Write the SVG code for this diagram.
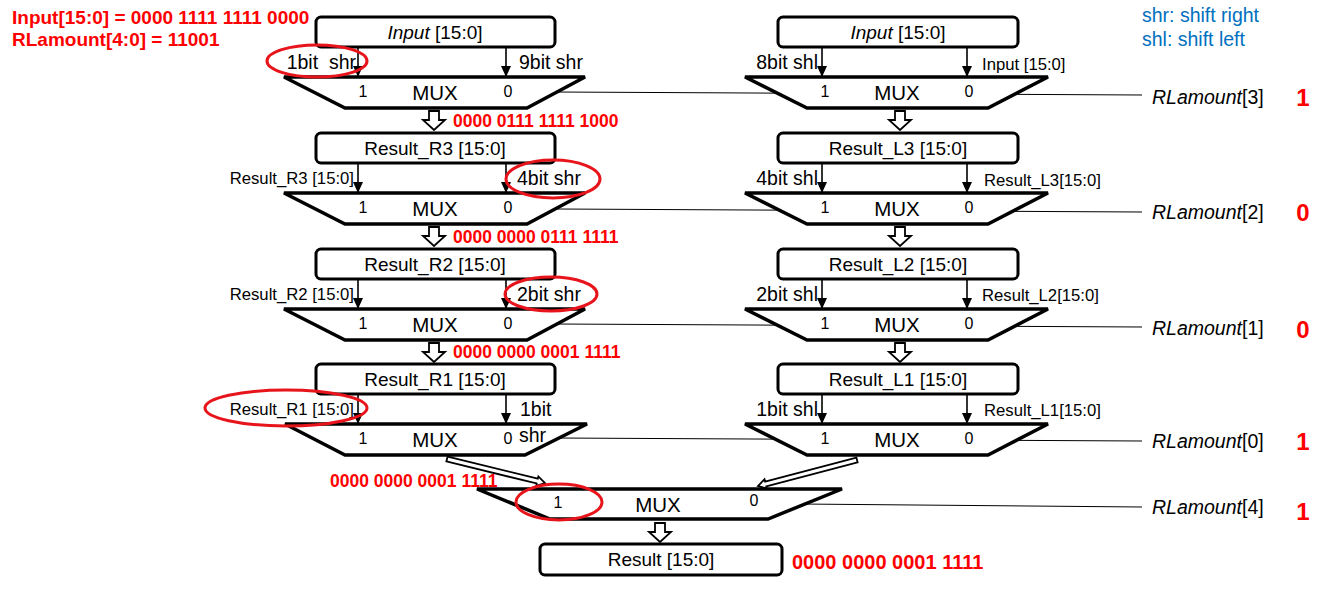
<svg xmlns="http://www.w3.org/2000/svg" width="1323" height="596" viewBox="0 0 1323 596">
<style>
text{font-family:"Liberation Sans",Arial,Helvetica,sans-serif;fill:#000}
.box{fill:#fff;stroke:#000;stroke-width:3}
.mux{fill:#fff;stroke:#000;stroke-width:3.5;stroke-linejoin:miter}
.ctl{stroke:#000;stroke-width:1;fill:none}
.arr{stroke:#000;stroke-width:1.6;fill:none;marker-end:url(#ah)}
.hol{fill:#fff;stroke:#000;stroke-width:1.8;stroke-linejoin:miter}
.red{fill:#f00;font-weight:bold}
.ell{fill:none;stroke:#e8141b;stroke-width:3}
.bt{font-size:19px;text-anchor:middle}
.lb{font-size:19.5px}
.sm{font-size:16.7px}
.mx{font-size:20.5px;text-anchor:middle}
.io{font-size:16px;text-anchor:middle}
.rl{font-size:19.5px}
.bit{font-size:24px;text-anchor:middle}
.blue{fill:#0070c0;font-size:19.5px}
</style>
<defs>
<marker id="ah" markerUnits="userSpaceOnUse" markerWidth="12" markerHeight="14" refX="10" refY="6" orient="auto">
<path d="M0,1 L11,6 L0,11 Z" fill="#000"/>
</marker>
</defs>

<g id="connectors">
<line class="ctl" x1="556" y1="92" x2="1142" y2="95"/>
<line class="ctl" x1="556" y1="209" x2="1142" y2="212"/>
<line class="ctl" x1="556" y1="324" x2="1142" y2="327"/>
<line class="ctl" x1="556" y1="438" x2="1142" y2="441"/>
<line class="ctl" x1="800" y1="504" x2="1142" y2="507"/>
<line class="arr" x1="358" y1="47" x2="358" y2="76"/>
<line class="arr" x1="506" y1="47" x2="506" y2="76"/>
<line class="arr" x1="822" y1="47" x2="822" y2="76"/>
<line class="arr" x1="967" y1="47" x2="967" y2="76"/>
<line class="arr" x1="358" y1="163" x2="358" y2="192"/>
<line class="arr" x1="506" y1="163" x2="506" y2="192"/>
<line class="arr" x1="822" y1="163" x2="822" y2="192"/>
<line class="arr" x1="967" y1="163" x2="967" y2="192"/>
<line class="arr" x1="358" y1="279" x2="358" y2="308"/>
<line class="arr" x1="506" y1="279" x2="506" y2="308"/>
<line class="arr" x1="822" y1="279" x2="822" y2="308"/>
<line class="arr" x1="967" y1="279" x2="967" y2="308"/>
<line class="arr" x1="358" y1="394" x2="358" y2="423"/>
<line class="arr" x1="506" y1="394" x2="506" y2="423"/>
<line class="arr" x1="822" y1="394" x2="822" y2="423"/>
<line class="arr" x1="967" y1="394" x2="967" y2="423"/>
<polygon class="hol" points="429,111 439,111 439,120 445,120 434,130 423,120 429,120"/>
<polygon class="hol" points="895,111 905,111 905,120 911,120 900,130 889,120 895,120"/>
<polygon class="hol" points="429,227 439,227 439,236 445,236 434,246 423,236 429,236"/>
<polygon class="hol" points="895,227 905,227 905,236 911,236 900,246 889,236 895,236"/>
<polygon class="hol" points="429,343 439,343 439,352 445,352 434,362 423,352 429,352"/>
<polygon class="hol" points="895,343 905,343 905,352 911,352 900,362 889,352 895,352"/>
<polygon class="hol" points="655,523 665,523 665,532 671,532 660,542 649,532 655,532"/>
<polygon class="hol" stroke-width="1.3" points="446.4,461.4 536.6,483.5 536.3,485.8 545,483 538.4,476.4 537.8,478.7 447.6,456.6"/>
<polygon class="hol" stroke-width="1.3" points="856.4,457.6 765.1,481.6 764.5,479.3 758,486 767,488.6 766.3,486.4 857.6,462.4"/>
</g>

<g id="note-input">
<text class="red" x="12" y="24" font-size="19">Input[15:0] = 0000 1111 1111 0000</text>
<text class="red" x="12" y="46" font-size="19">RLamount[4:0] = 11001</text>
</g>
<g id="legend">
<text class="blue" x="1142" y="22">shr: shift right</text>
<text class="blue" x="1142" y="46">shl: shift left</text>
</g>

<!-- Row 1 -->
<g id="box-input-r">
<rect class="box" x="316" y="17" width="239" height="30" rx="5"/>
<text class="bt" x="435" y="39"><tspan font-style="italic">Input</tspan> [15:0]</text>
</g>
<g id="box-input-l">
<rect class="box" x="778" y="17" width="240" height="30" rx="5"/>
<text class="bt" x="898" y="39"><tspan font-style="italic">Input</tspan> [15:0]</text>
</g>
<g id="mux-r3">
<polygon class="mux" points="284,77 585,77 527,108 345,108"/>
<text class="io" x="363" y="97">1</text><text class="mx" x="435" y="100">MUX</text><text class="io" x="508" y="97">0</text>
</g>
<g id="mux-l3">
<polygon class="mux" points="745,77 1048,77 988,108 807,108"/>
<text class="io" x="825" y="97">1</text><text class="mx" x="897" y="100">MUX</text><text class="io" x="969" y="97">0</text>
</g>
<g id="labels-row1">
<text class="lb" x="356" y="69" text-anchor="end" xml:space="preserve">1bit  shr</text>
<text class="lb" x="519" y="69">9bit shr</text>
<text class="lb" x="818" y="69" text-anchor="end">8bit shl</text>
<text class="sm" x="982" y="70">Input [15:0]</text>
<text class="red" x="453" y="127" font-size="17.5">0000 0111 1111 1000</text>
</g>

<!-- Row 2 -->
<g id="box-result-r3">
<rect class="box" x="316" y="133" width="239" height="30" rx="5"/>
<text class="bt" x="435" y="155">Result_R3 [15:0]</text>
</g>
<g id="box-result-l3">
<rect class="box" x="778" y="133" width="240" height="30" rx="5"/>
<text class="bt" x="898" y="155">Result_L3 [15:0]</text>
</g>
<g id="mux-r2">
<polygon class="mux" points="284,193 585,193 527,224 345,224"/>
<text class="io" x="363" y="213">1</text><text class="mx" x="435" y="216">MUX</text><text class="io" x="508" y="213">0</text>
</g>
<g id="mux-l2">
<polygon class="mux" points="745,193 1048,193 988,224 807,224"/>
<text class="io" x="825" y="213">1</text><text class="mx" x="897" y="216">MUX</text><text class="io" x="969" y="213">0</text>
</g>
<g id="labels-row2">
<text class="sm" x="354" y="184" text-anchor="end">Result_R3 [15:0]</text>
<text class="lb" x="517" y="185">4bit shr</text>
<text class="lb" x="818" y="185" text-anchor="end">4bit shl</text>
<text class="sm" x="984" y="186">Result_L3[15:0]</text>
<text class="red" x="453" y="243" font-size="17.5">0000 0000 0111 1111</text>
</g>

<!-- Row 3 -->
<g id="box-result-r2">
<rect class="box" x="316" y="249" width="239" height="30" rx="5"/>
<text class="bt" x="435" y="271">Result_R2 [15:0]</text>
</g>
<g id="box-result-l2">
<rect class="box" x="778" y="249" width="240" height="30" rx="5"/>
<text class="bt" x="898" y="271">Result_L2 [15:0]</text>
</g>
<g id="mux-r1">
<polygon class="mux" points="284,309 585,309 527,340 345,340"/>
<text class="io" x="363" y="329">1</text><text class="mx" x="435" y="332">MUX</text><text class="io" x="508" y="329">0</text>
</g>
<g id="mux-l1">
<polygon class="mux" points="745,309 1048,309 988,340 807,340"/>
<text class="io" x="825" y="329">1</text><text class="mx" x="897" y="332">MUX</text><text class="io" x="969" y="329">0</text>
</g>
<g id="labels-row3">
<text class="sm" x="354" y="300" text-anchor="end">Result_R2 [15:0]</text>
<text class="lb" x="517" y="301">2bit shr</text>
<text class="lb" x="818" y="301" text-anchor="end">2bit shl</text>
<text class="sm" x="982" y="301">Result_L2[15:0]</text>
<text class="red" x="453" y="358" font-size="17.5">0000 0000 0001 1111</text>
</g>

<!-- Row 4 -->
<g id="box-result-r1">
<rect class="box" x="316" y="364" width="239" height="30" rx="5"/>
<text class="bt" x="435" y="386">Result_R1 [15:0]</text>
</g>
<g id="box-result-l1">
<rect class="box" x="778" y="364" width="240" height="30" rx="5"/>
<text class="bt" x="898" y="386">Result_L1 [15:0]</text>
</g>
<g id="mux-r0">
<polygon class="mux" points="285,424 587,424 525,455 345,455"/>
<text class="io" x="363" y="444">1</text><text class="mx" x="435" y="447">MUX</text><text class="io" x="508" y="444">0</text>
</g>
<g id="mux-l0">
<polygon class="mux" points="745,424 1048,424 988,455 807,455"/>
<text class="io" x="825" y="444">1</text><text class="mx" x="897" y="447">MUX</text><text class="io" x="969" y="444">0</text>
</g>
<g id="labels-row4">
<text class="sm" x="354" y="415" text-anchor="end">Result_R1 [15:0]</text>
<text class="lb" x="520" y="416">1bit</text>
<text class="lb" x="519" y="442">shr</text>
<text class="lb" x="818" y="416" text-anchor="end">1bit shl</text>
<text class="sm" x="984" y="416">Result_L1[15:0]</text>
<text class="red" x="330" y="487" font-size="17.5">0000 0000 0001 1111</text>
</g>

<!-- Final -->
<g id="mux-final">
<polygon class="mux" points="477,489 842,489 768,519 550,519"/>
<text class="io" x="558" y="508">1</text><text class="mx" x="658" y="512">MUX</text><text class="io" x="754" y="506">0</text>
</g>
<g id="box-result">
<rect class="box" x="540" y="544" width="242" height="31" rx="5"/>
<text class="bt" x="661" y="566">Result [15:0]</text>
<text class="red" x="792" y="569" font-size="20">0000 0000 0001 1111</text>
</g>

<g id="control-labels">
<text class="rl" x="1152" y="104"><tspan font-style="italic">RLamount</tspan>[3]</text>
<text class="rl" x="1152" y="219"><tspan font-style="italic">RLamount</tspan>[2]</text>
<text class="rl" x="1152" y="335"><tspan font-style="italic">RLamount</tspan>[1]</text>
<text class="rl" x="1152" y="448"><tspan font-style="italic">RLamount</tspan>[0]</text>
<text class="rl" x="1152" y="514"><tspan font-style="italic">RLamount</tspan>[4]</text>
<text class="red bit" x="1303" y="106">1</text>
<text class="red bit" x="1303" y="221">0</text>
<text class="red bit" x="1303" y="338">0</text>
<text class="red bit" x="1303" y="450">1</text>
<text class="red bit" x="1303" y="520">1</text>
</g>

<g id="highlights">
<ellipse class="ell" cx="317" cy="61" rx="50" ry="16"/>
<ellipse class="ell" cx="553" cy="179" rx="47" ry="19"/>
<ellipse class="ell" cx="551" cy="294" rx="46" ry="17"/>
<ellipse class="ell" cx="286" cy="408" rx="81" ry="18"/>
<ellipse class="ell" cx="559" cy="502" rx="43" ry="18"/>
</g>
</svg>
